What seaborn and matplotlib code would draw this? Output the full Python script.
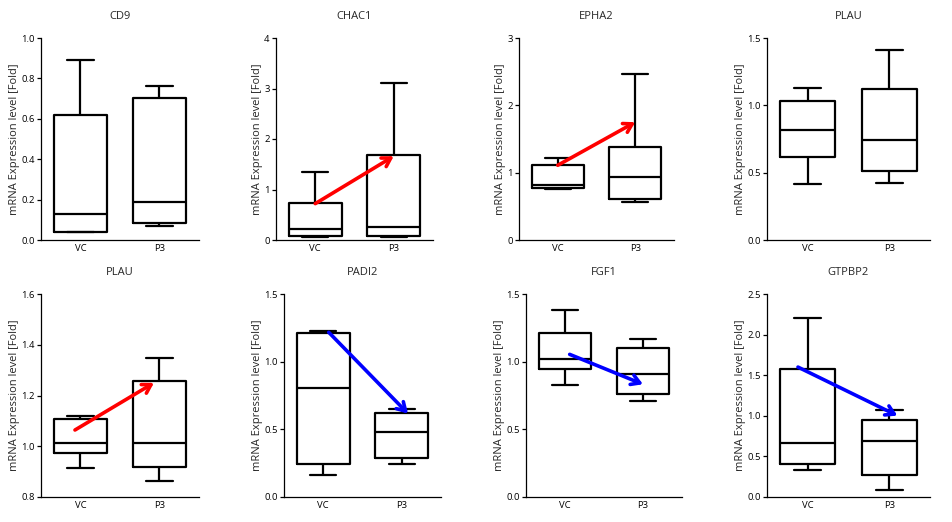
import numpy as np
import pandas as pd
import matplotlib
matplotlib.use("Agg")
import matplotlib.pyplot as plt
import seaborn as sns

sns.set_theme(style="white")
plt.rcParams['font.family'] = ['Open Sans', 'DejaVu Sans']

groups = ["VC", "P3"]
titles = ["CD9", "CHAC1", "EPHA2", "PLAU", "PLAU", "PADI2", "FGF1", "GTPBP2"]

# five-number summaries: min, Q1, median, Q3, max
cd9_vc = [0.038, 0.041, 0.13, 0.618, 0.89]
cd9_p3 = [0.069, 0.086, 0.186, 0.702, 0.761]
chac1_vc = [0.053, 0.086, 0.217, 0.738, 1.344]
chac1_p3 = [0.053, 0.072, 0.257, 1.674, 3.117]
epha2_vc = [0.76, 0.765, 0.81, 1.12, 1.22]
epha2_p3 = [0.568, 0.608, 0.94, 1.384, 2.46]
plau1_vc = [0.413, 0.620, 0.818, 1.033, 1.127]
plau1_p3 = [0.425, 0.511, 0.744, 1.119, 1.408]
plau2_vc = [0.916, 0.973, 1.014, 1.109, 1.118]
plau2_p3 = [0.862, 0.917, 1.014, 1.258, 1.349]
padi2_vc = [0.165, 0.241, 0.803, 1.209, 1.229]
padi2_p3 = [0.246, 0.291, 0.483, 0.618, 0.648]
fgf1_vc = [0.825, 0.943, 1.017, 1.209, 1.384]
fgf1_p3 = [0.707, 0.759, 0.911, 1.099, 1.170]
gtpbp2_vc = [0.337, 0.402, 0.669, 1.572, 2.209]
gtpbp2_p3 = [0.082, 0.267, 0.694, 0.952, 1.076]

vc_data = [cd9_vc, chac1_vc, epha2_vc, plau1_vc, plau2_vc, padi2_vc, fgf1_vc, gtpbp2_vc]
p3_data = [cd9_p3, chac1_p3, epha2_p3, plau1_p3, plau2_p3, padi2_p3, fgf1_p3, gtpbp2_p3]

y_limits = [(0, 1.0), (0, 4), (0, 3), (0, 1.5), (0.8, 1.6), (0, 1.5), (0, 1.5), (0, 2.5)]
y_ticks = [
    [0.0, 0.2, 0.4, 0.6, 0.8, 1.0],
    [0, 1, 2, 3, 4],
    [0, 1, 2, 3],
    [0.0, 0.5, 1.0, 1.5],
    [0.8, 1.0, 1.2, 1.4, 1.6],
    [0.0, 0.5, 1.0, 1.5],
    [0.0, 0.5, 1.0, 1.5],
    [0.0, 0.5, 1.0, 1.5, 2.0, 2.5],
]
y_ticklabels = [
    ["0.0", "0.2", "0.4", "0.6", "0.8", "1.0"],
    ["0", "1", "2", "3", "4"],
    ["0", "1", "2", "3"],
    ["0.0", "0.5", "1.0", "1.5"],
    ["0.8", "1.0", "1.2", "1.4", "1.6"],
    ["0.0", "0.5", "1.0", "1.5"],
    ["0.0", "0.5", "1.0", "1.5"],
    ["0.0", "0.5", "1.0", "1.5", "2.0", "2.5"],
]

# arrows: (x_start, y_start, x_end, y_end, colour) or None
arrows = [
    None,
    (0.0, 0.72, 1.0, 1.66, "red"),
    (0.0, 1.11, 1.0, 1.75, "red"),
    None,
    (-0.07, 1.064, 0.93, 1.25, "red"),
    (0.07, 1.217, 1.08, 0.616, "blue"),
    (0.06, 1.054, 1.0, 0.833, "blue"),
    (-0.12, 1.60, 1.10, 1.002, "blue"),
]

W, H = 953, 522
fig = plt.figure(figsize=(W / 100, H / 100), dpi=100)

# axes boxes in pixels: left, right, top, bottom
boxes = [
    (41, 199, 38, 240), (276, 433, 38, 240), (519, 674, 38, 240), (767, 930, 38, 240),
    (41, 199, 294, 497), (284, 441, 294, 497), (526, 682, 294, 497), (767, 930, 294, 497),
]

for i, (l, r, t, b) in enumerate(boxes):
    ax = fig.add_axes([l / W, 1 - b / H, (r - l) / W, (b - t) / H])
    df = pd.DataFrame({
        "group": [groups[0]] * 5 + [groups[1]] * 5,
        "value": list(vc_data[i]) + list(p3_data[i]),
    })
    sns.boxplot(data=df, x="group", y="value", order=groups, ax=ax,
                whis=(0, 100), width=0.67, fill=False, color="black",
                linecolor="black", linewidth=1.6, showfliers=False)
    ax.set_xlim(-0.5, 1.5)
    ax.set_ylim(*y_limits[i])
    ax.set_yticks(y_ticks[i])
    ax.set_yticklabels(y_ticklabels[i])
    ax.set_xlabel("")
    ax.set_ylabel("mRNA Expression level [Fold]", fontsize=8, labelpad=1)
    ax.set_title(titles[i], fontsize=8, pad=14)
    for s in ["top", "right"]:
        ax.spines[s].set_visible(False)
    for s in ["left", "bottom"]:
        ax.spines[s].set_color("black")
        ax.spines[s].set_linewidth(0.9)
    ax.tick_params(axis="y", left=True, length=3, width=0.9, labelsize=6.8, pad=1.5, colors="black")
    ax.tick_params(axis="x", bottom=False, length=0, labelsize=6.8, pad=3, colors="black")
    a = arrows[i]
    if a is not None:
        x0, y0, x1, y1, c = a
        ax.annotate("", xy=(x1, y1), xytext=(x0, y0),
                    arrowprops=dict(arrowstyle="->,head_length=0.5,head_width=0.3",
                                    color=c, lw=2.6, shrinkA=0, shrinkB=0))

fig.savefig("out.png", dpi=100)
